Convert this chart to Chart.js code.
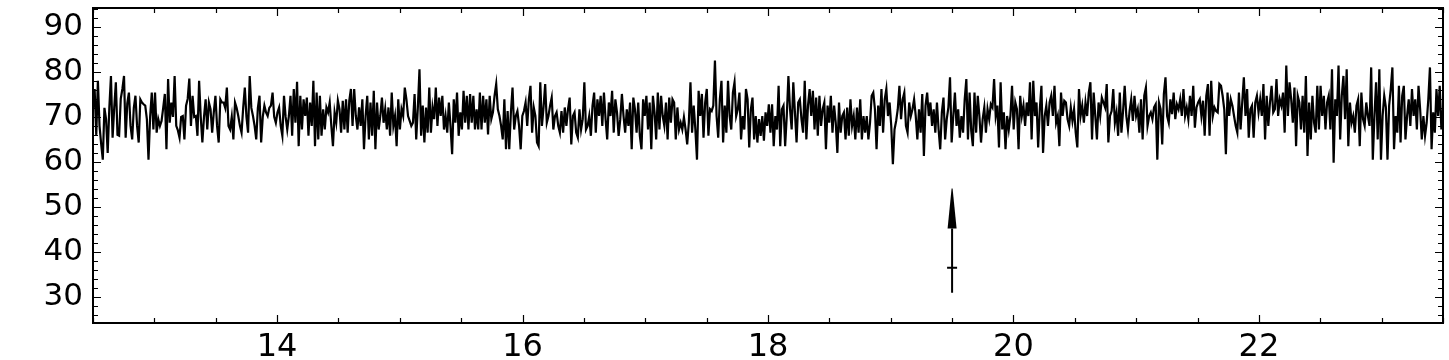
<!DOCTYPE html>
<html>
<head>
<meta charset="utf-8">
<script src="https://cdn.jsdelivr.net/npm/chart.js@4.4.1/dist/chart.umd.min.js"></script>
<style>
  html, body { margin: 0; padding: 0; background: #fff; }
  #wrap { width: 1449px; height: 360px; }
</style>
</head>
<body>
<div id="wrap"><canvas id="c" width="1449" height="360"></canvas></div>
<script>
// ---- data ----
const xMin = 12.5, xMax = 23.5;
const yMin = 24.2, yMax = 94.2;
const xTickLabels = [14, 16, 18, 20, 22];
const yTickLabels = [30, 40, 50, 60, 70, 80, 90];
const xMinorStep = 0.5;
const yMinorStep = 2;

// arrow marker (data units)
const arrowX = 19.5;
const arrowTail = 30.9;
const arrowMark = 36.5;
const arrowHeadBase = 45.2;
const arrowTip = 54.1;

const seg1 = [72,76.2,66,78,68,64,60.5,72,69.5,62,72,79.1,65.4,72,77.7,66,65.8,74,76.2,79.1,65.4,73,75.4,68,65,72,74.7,68,64.3,73.9,73.2,72.8,72.5,69.5,60.5,70,75.4,67.2,75.4,66.5,69.5,68,69.1,72,75.1,62.8,78.4,68.7,73.2,70,79.1,68,67,65.4,70,70.2,65,72.5,74,78.5,68,74.7,70,70.2,65.8,78,70,64.3,70,73.9,67.2,73.2,71.7,66.5,71,74.7,68,64.3,73.9,73.2,73.2,72,76.5,68,67.2,70,65,73.2,72,70.2,68,66.5,72,76.5,70,66.5,79.1,72,70.2,68,65,72,74.7,64.3,70,72.5,71,70.2,72,72.5,75.4,70,68.7,71,72.1,68,65.8,74.7,70,67.2];
const seg2 = [70.2,74.7,65.8,76.2,68.7,77.8,63.5,74.7,67.2,73.9,70.2,74.3,65.8,73.2,68.0,78.0,63.5,75.4,65.0,74.7,65.8,71.7,67.2,72.1,71.0,73.2,68.0,63.5,71.0,68.7,73.6,71.7,66.5,73.6,67.2,73.9,66.5,73.6,76.2,68.0,76.2,70.2,67.2,72.1,68.0,73.9,62.8,70.2,74.7,65.0,73.2,65.8,75.8,62.8,73.2,67.2,70.2,74.3,68.7,71.7,67.2,72.1,65.8,75.4,68.0,70.2,63.5,73.9,67.2,71.7,70.2,76.5,73.9,70.2,69.1,68.0,68.7,75.1,65.0,72.1,80.6,65.8,72.5,64.3,72.1,66.5,76.5,66.5,72.1,69.5,76.5,68.0,74.3,70.2,74.7,67.2,70.2,66.5,73.2,68.0,61.7,73.9,68.7,75.4,65.8,71.0,67.2,75.8,68.7,74.7,67.2,75.1,68.7,74.7,67.2,71.7];
const seg3 = [67.2,75.4,67.2,74.7,68.7,73.9,66.1,74.7,69.5,71.0,74.7,77.3,71.7,70.2,68.0,65.0,73.9,62.8,71.3,62.8,71.0,76.5,67.2,70.2,71.3,68.0,62.8,70.2,71.3,73.2,68.0,73.9,76.9,66.5,72.1,70.2,64.3,63.5,77.7,68.0,72.1,77.3,68.7,70.2,72.5,74.3,67.2,70.2,71.0,68.0,66.5,71.3,66.5,72.1,68.0,71.7,74.3,63.9,70.2,71.0,66.5,65.4,71.7,67.2,69.5,77.7,67.2,68.0,70.2,65.8,72.5,75.4,66.5,73.9,70.2,74.7,68.0,75.4,69.5,65.0,73.2,70.2,75.8,66.5,73.9,71.0,65.8,69.5,75.1,70.2,66.5,71.7,68.0,73.2,62.8,74.3,71.7,66.5,73.2,65.8,62.8,73.9,70.2,74.7,67.2,73.2,62.8,74.7,71.0,65.0,75.4,67.2,74.7,70.2,68.0,73.2,65.0,74.3,68.7,73.9];
const seg4 = [73.2,65.0,72.1,67.2,68.7,67.2,69.9,67.2,63.9,68.7,77.7,66.5,72.5,67.2,60.5,75.8,70.2,75.1,65.4,73.2,76.2,65.8,71.7,71.3,72.5,82.5,70.2,65.4,73.9,78.0,64.3,72.5,66.5,78.0,70.2,67.2,75.4,77.7,70.2,71.7,75.4,65.0,70.2,67.2,76.2,73.9,63.2,71.7,74.3,65.0,70.2,64.3,69.5,65.8,70.2,64.7,71.0,68.0,72.8,66.5,72.8,63.5,70.2,67.2,76.9,63.5,71.7,72.5,63.5,70.2,79.1,71.7,67.2,77.7,71.0,64.3,73.2,73.9,69.5,66.5,78.0,65.0,72.5,76.2,70.2,75.8,67.2,74.3,65.8,74.7,68.0,71.7,73.2,62.8,72.5,68.7,74.7,66.5,72.5,68.7,62.0,73.2,66.5,70.2,71.0,65.0,72.1,65.8,73.9,68.0,70.2,65.0,72.1,66.5,73.9,65.0,70.2,66.5];
const seg5 = [70.2,65.0,68.7,74.7,75.4,71.7,62.8,72.5,68.0,76.2,66.5,73.9,76.2,70.2,73.2,68.0,59.5,67.2,69.1,71.7,76.9,69.5,73.9,75.4,68.0,66.5,73.2,70.2,71.7,73.9,70.2,65.0,71.7,66.5,75.1,61.3,72.5,75.4,70.2,73.2,68.0,71.7,66.5,73.2,67.2,62.8,71.0,74.3,65.0,69.5,72.1,78.8,64.3,70.2,75.4,68.0,71.7,65.4,70.2,66.5,73.9,78.4,65.0,75.4,66.9,63.5,75.4,66.5,74.7,70.2,64.3,69.5,72.1,66.5,71.7,69.5,72.8,72.1,78.4,70.2,72.5,63.2,77.7,67.2,71.0,62.8,70.2,67.2,70.2,76.9,67.2,73.2,71.7,62.8,74.7,70.2,72.5,68.0,73.2,70.2,77.7,65.0,78.0,70.2,73.2,63.2,71.7,76.9,62.0,70.2,72.5,68.0,73.2,74.7,70.2,76.9,68.7,70.2];
const seg6 = [63.5,75.4,70.2,73.6,73.2,69.5,68.0,72.1,69.1,71.7,66.5,63.2,76.2,70.2,72.5,68.7,73.2,70.2,75.4,77.7,65.0,75.4,70.2,65.0,73.2,70.2,74.3,73.2,72.1,77.3,64.3,70.2,71.3,76.2,68.7,71.0,65.8,75.4,66.5,71.3,76.9,70.2,67.2,71.3,73.9,69.1,74.7,70.2,71.7,66.5,73.9,65.0,74.7,76.5,68.0,70.2,71.0,69.5,72.1,72.8,60.5,73.2,71.7,63.9,75.1,78.8,70.2,68.7,73.9,70.6,75.4,69.5,72.8,71.7,73.9,70.2,76.2,70.2,72.1,69.5,74.7,70.2,76.9,67.6,72.1,73.2,73.9,70.2,73.6,65.8,74.7,77.3,65.8,78.0,70.2,72.1,71.3,71.0,77.3,76.9,74.7,71.7,61.7,75.4,70.2,73.9,72.5,70.2,68.0,66.5,75.4,67.2,73.2,78.8,70.2,76.2,65.4,71.7];
const seg7 = [72.5,65.4,73.2,74.7,71.0,73.9,70.2,77.3,65.0,74.7,68.0,73.2,76.9,71.0,71.7,78.4,70.2,73.9,72.5,75.4,66.5,81.4,70.2,77.7,73.9,68.7,76.5,63.5,74.7,73.2,67.2,74.7,66.5,79.1,61.3,73.2,65.0,74.7,68.7,66.5,76.9,67.2,76.9,70.2,74.7,67.2,73.2,74.7,67.2,80.6,59.8,73.9,70.2,81.4,65.0,74.7,79.1,69.5,80.6,63.5,73.2,68.7,70.2,66.5,72.5,73.9,63.5,75.4,69.5,68.0,73.2,70.2,68.0,81.0,60.5,70.2,77.7,65.0,80.6,60.5,70.2,74.7,72.1,60.5,72.5,76.2,81.0,62.8,70.2,66.5,76.9,64.3,74.7,76.9,65.0,70.2,73.9,68.0,76.2,70.2,73.9,67.2,76.9,71.7,65.0,70.2,65.8,68.7,73.9,81.0,62.8,71.0,66.5,76.2,70.2,76.9,67.2,71.7];

// series sampled at uniform steps across the x range
const signal = [].concat(seg1, seg2, seg3, seg4, seg5, seg6, seg7);
const xStep = (xMax - xMin) / (signal.length - 1);
const points = signal.map((v, i) => ({ x: xMin + i * xStep, y: v }));

// ---- frame, inward ticks and arrow ----
const framePlugin = {
  id: 'framePlugin',
  afterDatasetsDraw(chart) {
    const { ctx, chartArea: a, scales: { x, y } } = chart;
    ctx.save();
    ctx.strokeStyle = '#000';
    ctx.fillStyle = '#000';
    ctx.lineWidth = 1.2;
    ctx.beginPath();
    for (let v = xMin; v <= xMax + 1e-9; v += xMinorStep) {
      const px = Math.round(x.getPixelForValue(v)) + 0.5;
      const major = xTickLabels.includes(Math.round(v * 100) / 100);
      const len = major ? 8 : 5;
      ctx.moveTo(px, a.bottom); ctx.lineTo(px, a.bottom - len);
      ctx.moveTo(px, a.top); ctx.lineTo(px, a.top + len);
    }
    const yStart = Math.ceil(yMin / yMinorStep) * yMinorStep;
    for (let v = yStart; v <= yMax; v += yMinorStep) {
      const py = Math.round(y.getPixelForValue(v)) + 0.5;
      const major = yTickLabels.includes(v);
      const len = major ? 8 : 5;
      ctx.moveTo(a.left, py); ctx.lineTo(a.left + len, py);
      ctx.moveTo(a.right, py); ctx.lineTo(a.right - len, py);
    }
    ctx.stroke();
    ctx.lineWidth = 2;
    ctx.strokeRect(a.left, a.top, a.right - a.left, a.bottom - a.top);
    const ax = x.getPixelForValue(arrowX);
    const yTail = y.getPixelForValue(arrowTail);
    const yMark = y.getPixelForValue(arrowMark);
    const yBase = y.getPixelForValue(arrowHeadBase);
    const yTip = y.getPixelForValue(arrowTip);
    ctx.lineWidth = 2;
    ctx.beginPath();
    ctx.moveTo(ax, yTail); ctx.lineTo(ax, yBase);
    ctx.moveTo(ax - 5, yMark); ctx.lineTo(ax + 5, yMark);
    ctx.stroke();
    ctx.beginPath();
    ctx.moveTo(ax - 4.5, yBase);
    ctx.lineTo(ax + 4.5, yBase);
    ctx.lineTo(ax + 0.5, yTip);
    ctx.lineTo(ax - 0.5, yTip);
    ctx.closePath();
    ctx.fill();
    ctx.restore();
  }
};

new Chart(document.getElementById('c'), {
  type: 'line',
  data: {
    datasets: [{
      data: points,
      borderColor: '#000',
      borderWidth: 2.2,
      pointRadius: 0,
      tension: 0,
      fill: false
    }]
  },
  options: {
    responsive: false,
    animation: false,
    events: [],
    layout: { padding: { top: 8, right: 6, left: 0, bottom: 0 } },
    plugins: { legend: { display: false }, tooltip: { enabled: false } },
    scales: {
      x: {
        type: 'linear',
        min: xMin, max: xMax,
        grid: { display: false, drawTicks: false },
        border: { display: false },
        afterBuildTicks: (axis) => { axis.ticks = xTickLabels.map(v => ({ value: v })); },
        afterFit: (s) => { s.height = 37; s.paddingLeft = 0; s.paddingRight = 0; },
        ticks: {
          color: '#000',
          padding: 5,
          maxRotation: 0,
          font: { family: 'DejaVu Sans', size: 32 },
          callback: (v) => String(v)
        }
      },
      y: {
        type: 'linear',
        min: yMin, max: yMax,
        grid: { display: false, drawTicks: false },
        border: { display: false },
        afterBuildTicks: (axis) => { axis.ticks = yTickLabels.map(v => ({ value: v })); },
        afterFit: (s) => { s.width = 93; s.paddingTop = 0; s.paddingBottom = 0; },
        ticks: {
          color: '#000',
          padding: 10,
          font: { family: 'DejaVu Sans', size: 31 },
          callback: (v) => String(v)
        }
      }
    }
  },
  plugins: [framePlugin]
});
</script>
</body>
</html>
